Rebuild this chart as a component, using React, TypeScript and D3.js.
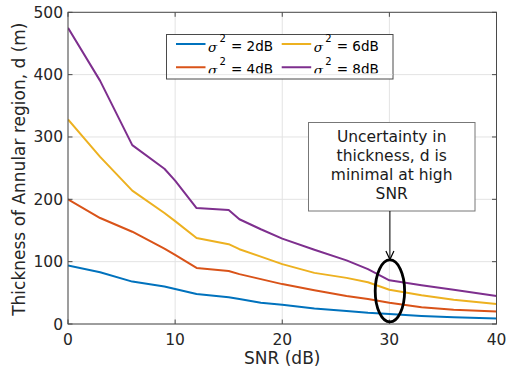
import React from "react";
import * as d3 from "d3";

const snr = [0, 3, 6, 9, 10, 12, 15, 16, 18, 20, 23, 26, 28, 30, 33, 36, 40];
const var2 = [94, 83, 68, 60, 56, 48, 43, 40, 34, 31, 25, 21, 18, 16, 13, 11, 9];
const var4 = [200, 170, 148, 121, 111, 90, 85, 80, 72, 64, 54, 45, 40, 34, 27, 23, 20];
const var6 = [328, 268, 214, 178, 165, 138, 128, 120, 108, 96, 82, 74, 67, 55, 46, 39, 32];
const var8 = [475, 390, 287, 249, 230, 186, 183, 168, 152, 137, 119, 102, 88, 70, 62, 55, 45];
const seriesNames = ["2dB", "4dB", "6dB", "8dB"];
const xTicks = [0, 10, 20, 30, 40];
const yTicks = [0, 100, 200, 300, 400, 500];
const annotationLines = ["Uncertainty in", "thickness, d is", "minimal at high", "SNR"];
const ellipseCenter = { x: 30.05, y: 53 };

const colors = ["#0072BD", "#D95319", "#EDB120", "#7E2F8E"];

export default function App() {
  const W = 506, H = 375;
  const x = d3.scaleLinear().domain([0, 40]).range([68, 496.5]);
  const y = d3.scaleLinear().domain([0, 500]).range([324, 12.3]);
  const line = d3.line<[number, number]>().x(d => x(d[0])).y(d => y(d[1]));
  const allSeries = [var2, var4, var6, var8];
  const font = "'DejaVu Sans', sans-serif";
  const axisColor = "#4a4a4a";
  const x0 = x(0), x1 = x(40), y0 = y(0), y1 = y(500);

  const legendEntries = seriesNames.map((n, i) => ({
    name: n,
    color: colors[i],
    col: Math.floor(i / 2),
    row: i % 2,
  }));

  const ex = x(ellipseCenter.x), ey = y(ellipseCenter.y);

  return (
    <svg width={W} height={H} style={{ position: "absolute", left: 0, top: 0, background: "#fff" }}>
      <defs>
        <clipPath id="legclip">
          <rect x={166} y={34} width={228} height={39.3} />
        </clipPath>
        <clipPath id="plotclip">
          <rect x={x0} y={y1} width={x1 - x0} height={y0 - y1} />
        </clipPath>
      </defs>
      <rect x={0} y={0} width={W} height={H} fill="#fff" />
      {/* grid */}
      {xTicks.map(t => (
        <line key={"gx" + t} x1={x(t)} x2={x(t)} y1={y0} y2={y1} stroke="#e3e3e3" strokeWidth={1} />
      ))}
      {yTicks.map(t => (
        <line key={"gy" + t} x1={x0} x2={x1} y1={y(t)} y2={y(t)} stroke="#e3e3e3" strokeWidth={1} />
      ))}
      {/* lines */}
      <g clipPath="url(#plotclip)">
        {allSeries.map((s, i) => (
          <path
            key={i}
            d={line(snr.map((v, j) => [v, s[j]] as [number, number])) || ""}
            fill="none"
            stroke={colors[i]}
            strokeWidth={2}
            strokeLinejoin="round"
          />
        ))}
      </g>
      {/* box */}
      <rect x={x0} y={y1} width={x1 - x0} height={y0 - y1} fill="none" stroke={axisColor} strokeWidth={1} />
      {xTicks.map(t => (
        <g key={"tx" + t}>
          <line x1={x(t)} x2={x(t)} y1={y0} y2={y0 - 4.5} stroke={axisColor} />
          <line x1={x(t)} x2={x(t)} y1={y1} y2={y1 + 4.5} stroke={axisColor} />
          <text x={x(t)} y={345} textAnchor="middle" fontFamily={font} fontSize={15.5} fill="#262626">
            {t}
          </text>
        </g>
      ))}
      {yTicks.map(t => (
        <g key={"ty" + t}>
          <line x1={x0} x2={x0 + 4.5} y1={y(t)} y2={y(t)} stroke={axisColor} />
          <line x1={x1} x2={x1 - 4.5} y1={y(t)} y2={y(t)} stroke={axisColor} />
          <text x={63} y={y(t) + 5.5} textAnchor="end" fontFamily={font} fontSize={15.5} fill="#262626">
            {t}
          </text>
        </g>
      ))}
      <text x={(x0 + x1) / 2} y={364} textAnchor="middle" fontFamily={font} fontSize={17} fill="#262626">
        SNR (dB)
      </text>
      <text
        transform={`translate(25,${(y0 + y1) / 2 + 1}) rotate(-90)`}
        textAnchor="middle"
        fontFamily={font}
        fontSize={17}
        fill="#262626"
      >
        Thickness of Annular region, d (m)
      </text>
      {/* legend */}
      <rect x={166.5} y={34.5} width={226.5} height={44.5} fill="#fff" stroke={axisColor} strokeWidth={1} />
      <line x1={167} x2={392.5} y1={y(400)} y2={y(400)} stroke="#e8e8e8" strokeWidth={1} />
      <g clipPath="url(#legclip)">
        {legendEntries.map((e, i) => {
          const lx = 176 + e.col * 105.7;
          const ly = 44 + e.row * 23.3;
          return (
            <g key={i}>
              <line x1={lx} x2={lx + 29.5} y1={ly} y2={ly} stroke={e.color} strokeWidth={2} />
              <text x={lx + 32} y={ly + 7.5} fontFamily="'DejaVu Serif', serif" fontStyle="italic" fontSize={13.5} fill="#000">
                σ
              </text>
              <text x={lx + 43.5} y={ly - 2} fontFamily={font} fontSize={10} fill="#000">
                2
              </text>
              <text x={lx + 55} y={ly + 7} fontFamily={font} fontSize={13.5} fill="#000">
                = {e.name}
              </text>
            </g>
          );
        })}
      </g>
      {/* annotation */}
      <rect x={308.5} y={122.5} width={166.5} height={88.5} fill="#fff" stroke="#777" strokeWidth={1} />
      {annotationLines.map((l, i) => (
        <text key={i} x={391.7} y={141.7 + i * 19} textAnchor="middle" fontFamily={font} fontSize={15.5} fill="#1a1a1a">
          {l}
        </text>
      ))}
      <line x1={ex} x2={ex} y1={211} y2={259} stroke="#000" strokeWidth={1} />
      <path d={`M${ex - 4},${251} L${ex},${259.5} L${ex + 4},${251}`} fill="none" stroke="#000" strokeWidth={1.2} />
      <ellipse cx={ex} cy={ey} rx={14.7} ry={31} fill="none" stroke="#000" strokeWidth={2.8} />
    </svg>
  );
}
